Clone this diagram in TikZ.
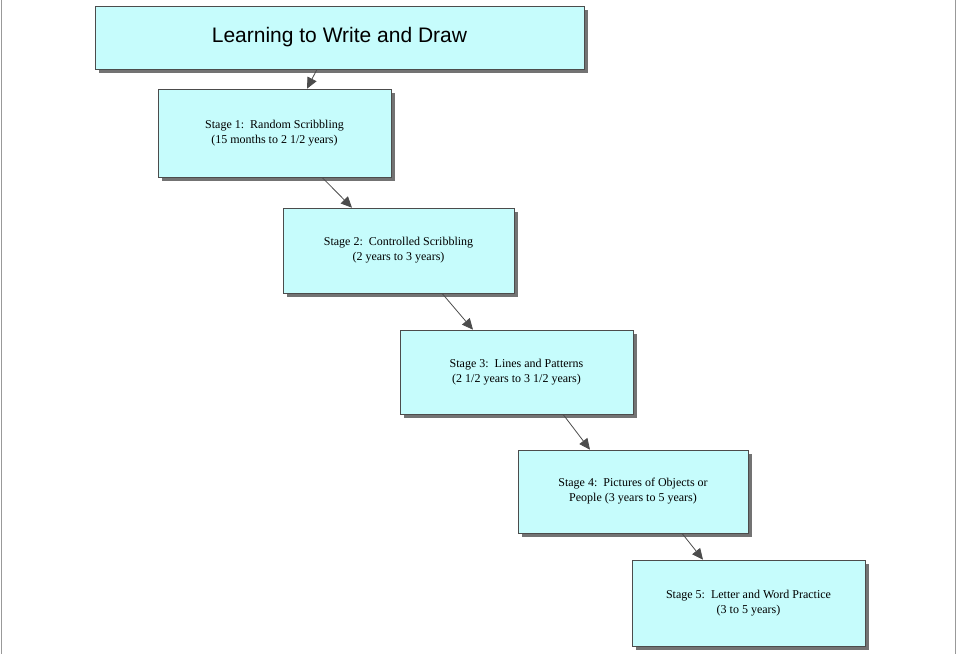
\documentclass[tikz,border=0pt]{standalone}
\usepackage{fontspec}
\setmainfont{Liberation Serif}
\newfontfamily\titlefont{Liberation Sans}
\usetikzlibrary{arrows.meta,shadows}
\definecolor{boxfill}{HTML}{C6FCFC}
\begin{document}
\begin{tikzpicture}[x=1pt,y=-1pt,
  stagebox/.style={draw=black!70,fill=boxfill,line width=0.6pt,align=center,font=\fontsize{12}{15}\selectfont,
    drop shadow={shadow xshift=4pt,shadow yshift=-4pt,fill=black!55,opacity=1}},
  conn/.style={draw=black!70,line width=0.8pt,-{Triangle[length=11pt,width=10pt]}}]
\useasboundingbox (0,0) rectangle (957,654);
\draw[black!40,line width=1pt] (1,0) -- (1,654) (955.5,0) -- (955.5,654);
\node[stagebox,minimum width=489pt,minimum height=63pt,font=\titlefont\fontsize{21}{25}\selectfont] (t) at (339.5,37.5) {Learning to Write and Draw};
\node[stagebox,minimum width=233pt,minimum height=88pt] (s1) at (274.5,133) {Stage 1:\ \ Random Scribbling\\(15 months to 2 1/2 years)};
\node[stagebox,minimum width=231pt,minimum height=85pt] (s2) at (398.5,250.5) {Stage 2:\ \ Controlled Scribbling\\(2 years to 3 years)};
\node[stagebox,minimum width=233pt,minimum height=84pt] (s3) at (516.5,372) {Stage 3:\ \ Lines and Patterns\\(2 1/2 years to 3 1/2 years)};
\node[stagebox,minimum width=230pt,minimum height=83pt] (s4) at (633,491.5) {Stage 4:\ \ Pictures of Objects or\\People (3 years to 5 years)};
\node[stagebox,minimum width=233pt,minimum height=86pt] (s5) at (748.5,603) {Stage 5:\ \ Letter and Word Practice\\(3 to 5 years)};
\draw[conn] (t.south -| 317,0) -- (s1.north -| 307,0);
\draw[conn] (s1.south -| 322,0) -- (s2.north -| 352,0);
\draw[conn] (s2.south -| 442,0) -- (s3.north -| 473,0);
\draw[conn] (s3.south -| 563,0) -- (s4.north -| 590,0);
\draw[conn] (s4.south -| 682,0) -- (s5.north -| 703,0);
\end{tikzpicture}
\end{document}
